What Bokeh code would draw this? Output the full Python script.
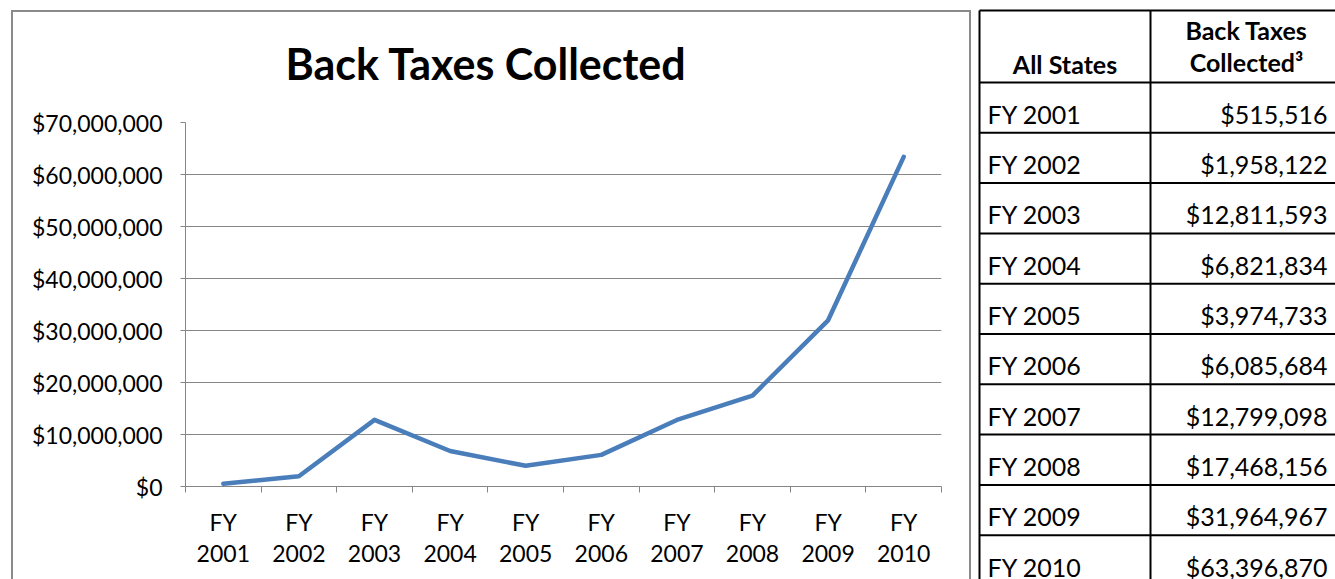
from bokeh.plotting import figure
from bokeh.models import Range1d, FixedTicker, NumeralTickFormatter, Title
from bokeh.layouts import row
from bokeh.core.properties import value
from bokeh.embed import file_html
from bokeh.resources import INLINE

# ---------------- data ----------------
categories = ["FY 2001", "FY 2002", "FY 2003", "FY 2004", "FY 2005",
              "FY 2006", "FY 2007", "FY 2008", "FY 2009", "FY 2010"]
tick_labels = ["FY\n2001", "FY\n2002", "FY\n2003", "FY\n2004", "FY\n2005",
               "FY\n2006", "FY\n2007", "FY\n2008", "FY\n2009", "FY\n2010"]
back_taxes = [515516, 1958122, 12811593, 6821834, 3974733,
              6085684, 12799098, 17468156, 31964967, 63396870]
y_ticks = [0, 10000000, 20000000, 30000000, 40000000, 50000000, 60000000, 70000000]
chart_title = "Back Taxes Collected"
header_col1 = "All States"
header_col2 = ["Back Taxes", "Collected\u00b3"]

FONT = "Lato"
GRAY = "#868686"
FRAME_GRAY = "#8a8a8a"
BLUE = "#4A7EBB"

# ---------------- chart ----------------
n = len(categories)
xs = list(range(1, n + 1))
ymax = y_ticks[-1]

p = figure(width=956, height=567,
           x_range=Range1d(0.5, n + 0.5), y_range=Range1d(0, ymax),
           output_backend="svg", toolbar_location=None,
           min_border_left=172, min_border_right=28,
           min_border_top=110, min_border_bottom=93)
p.frame_align = False
p.margin = (12, 0, 0, 13)
p.styles = {"box-shadow": f"-2px 0 0 0 {FRAME_GRAY}, 2px 0 0 0 {FRAME_GRAY}, "
                          f"0 -2px 0 0 {FRAME_GRAY}, -2px -2px 0 0 {FRAME_GRAY}, "
                          f"2px -2px 0 0 {FRAME_GRAY}"}
p.outline_line_color = None
p.background_fill_color = "white"
p.border_fill_color = "white"

p.title = Title(text=chart_title, align="left", offset=100,
                text_font=FONT, text_font_style="bold", text_font_size="43px",
                text_color="black", standoff=0,
                padding=dict(left=0, right=0, top=0, bottom=34))

p.xgrid.grid_line_color = None
p.ygrid.grid_line_color = GRAY
p.ygrid.grid_line_width = 1

# y axis
yax = p.yaxis[0]
yax.ticker = FixedTicker(ticks=y_ticks)
yax.formatter = NumeralTickFormatter(format="$0,0")
yax.axis_line_color = GRAY
yax.major_tick_line_color = GRAY
yax.major_tick_out = 5
yax.major_tick_in = 0
yax.minor_tick_line_color = None
yax.major_label_text_font = FONT
yax.major_label_text_font_size = "23px"
yax.major_label_text_color = "black"
yax.major_label_standoff = 18

# x axis
xax = p.xaxis[0]
xax.ticker = FixedTicker(ticks=xs, minor_ticks=[x - 0.5 for x in xs] + [n + 0.5])
xax.major_label_overrides = {x: lab for x, lab in zip(xs, tick_labels)}
xax.axis_line_color = GRAY
xax.major_tick_line_color = None
xax.major_tick_out = 0
xax.major_tick_in = 0
xax.minor_tick_line_color = GRAY
xax.minor_tick_out = 6
xax.minor_tick_in = 0
xax.major_label_text_font = FONT
xax.major_label_text_font_size = "23px"
xax.major_label_text_color = "black"
xax.major_label_text_line_height = 1.12
xax.major_label_standoff = 15

p.line(xs, back_taxes, line_color=BLUE, line_width=4.5,
       line_join="round", line_cap="round")

# ---------------- table ----------------
TW, TH = 364, 579
t = figure(width=TW, height=TH, x_range=Range1d(0, TW), y_range=Range1d(TH, 0),
           output_backend="svg", toolbar_location=None,
           x_axis_type=None, y_axis_type=None,
           min_border=0, min_border_left=0, min_border_right=0,
           min_border_top=0, min_border_bottom=0)
t.frame_align = False
t.margin = (0, 0, 0, 2)
t.outline_line_color = None
t.xgrid.visible = False
t.ygrid.visible = False
t.border_fill_color = "white"

col_x = [8, 179, 380]
top = 10
header_bottom = 82
row_h = 50.3
row_bottoms = [header_bottom + row_h * (i + 1) for i in range(n)]
h_lines = [top, header_bottom] + row_bottoms
t.segment(x0=[col_x[0]] * len(h_lines), x1=[col_x[-1]] * len(h_lines),
          y0=h_lines, y1=h_lines, line_color="black", line_width=2)
t.segment(x0=col_x, x1=col_x, y0=[top] * 3, y1=[TH + 40] * 3,
          line_color="black", line_width=2)

t.text(x=[col_x[0] + 8] * n, y=[b - 19 for b in row_bottoms], text=categories,
       text_font=value(FONT), text_font_size="25px", text_align="left",
       text_baseline="alphabetic", text_color="black")
t.text(x=[356] * n, y=[b - 19 for b in row_bottoms],
       text=["${:,}".format(v) for v in back_taxes],
       text_font=value(FONT), text_font_size="25px", text_align="right",
       text_baseline="alphabetic", text_color="black")
t.text(x=[(col_x[0] + col_x[1]) / 2], y=[63], text=[header_col1],
       text_font=value(FONT), text_font_style="bold", text_font_size="25px",
       text_align="center", text_baseline="alphabetic", text_color="black")
t.text(x=[275, 275], y=[29, 61], text=header_col2,
       text_font=value(FONT), text_font_style="bold", text_font_size="25px",
       text_align="center", text_baseline="alphabetic", text_color="black")

layout = row(p, t, spacing=0)
open("out.html", "w").write(file_html(layout, INLINE))
